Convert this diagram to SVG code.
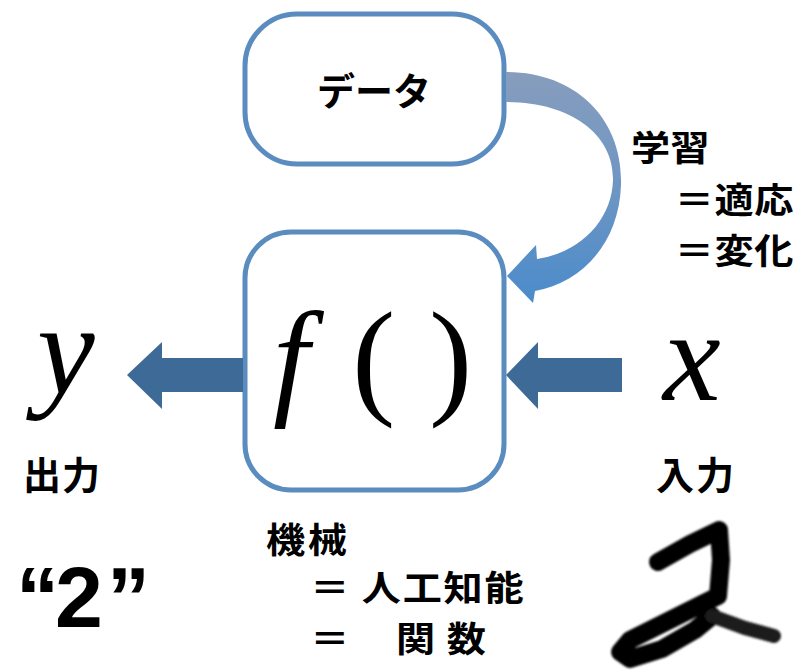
<svg xmlns="http://www.w3.org/2000/svg" width="797" height="671" viewBox="0 0 797 671">
  <style>
    .box { fill: #ffffff; stroke: #5b8cc0; stroke-width: 5; }
    .arrow { fill: #3e6a98; }
    .math { font-family: "Liberation Serif", "Times New Roman", serif; font-size: 130px; fill: #000; }
    .it { font-style: italic; }
    .jp { font-family: "Noto Sans CJK JP", "Noto Sans", sans-serif; font-weight: bold; font-size: 38px; fill: #000; }
    .stack { font-size: 35px; }
    .big { font-family: "Liberation Sans", Arial, sans-serif; font-weight: bold; font-size: 86px; fill: #000; }
  </style>
  <defs>
    <linearGradient id="curveGrad" x1="0" y1="0" x2="0" y2="1">
      <stop offset="0" stop-color="#879dbd"/>
      <stop offset="0.5" stop-color="#6e96c3"/>
      <stop offset="1" stop-color="#4a8bcb"/>
    </linearGradient>
    <filter id="soft" x="-10%" y="-10%" width="120%" height="120%">
      <feGaussianBlur stdDeviation="1.3"/>
    </filter>
  </defs>

  <g id="node-data">
    <rect class="box" x="245" y="14" width="259" height="150" rx="52" ry="52"/>
    <text class="jp" x="374" y="105" text-anchor="middle" font-size="44">データ</text>
  </g>

  <g id="node-machine">
    <rect class="box" x="245" y="232" width="259" height="258" rx="46" ry="46"/>
    <text class="math it" x="273" y="401">f</text>
    <text class="math" x="352" y="401">(</text>
    <text class="math" x="429" y="401">)</text>
  </g>

  <g id="connectors">
    <path id="learn-arrow" fill="url(#curveGrad)" d="M506,72 C575,72 623,118 621,185 C619,245 580,283 535,291 L533,303 L507,276 L536,245 L537,259 C583,252 612,218 613,180 C614,134 570,102 506,102 Z"/>
    <polygon class="arrow" points="243,358 162,358 162,342 127,375 162,409 162,392 243,392"/>
    <polygon class="arrow" points="622,358 538,358 538,342 506,375 538,409 538,392 622,392"/>
  </g>

  <g id="label-learning" transform="scale(1.12,1)">
    <text class="jp stack"><tspan x="563.5 598.5" y="161">学習</tspan><tspan x="602.5 638 673.5" y="213">＝適応</tspan><tspan x="602.5 638 673.5" y="264">＝変化</tspan></text>
  </g>

  <g id="node-output">
    <text class="math it" x="37" y="393">y</text>
    <text class="jp" x="23 62" y="489">出力</text>
  </g>

  <g id="node-input">
    <text class="math it" x="663" y="400">x</text>
    <text class="jp" x="656 696" y="489">入力</text>
  </g>

  <g id="label-machine" transform="scale(1.12,1)">
    <text class="jp stack"><tspan x="237.5 275" y="553">機械</tspan><tspan x="277 323 359.5 396 432.5" y="601">＝人工知能</tspan><tspan x="277 353.5 399" y="652">＝関数</tspan></text>
  </g>

  <g id="label-two">
    <text class="big" x="16 55 107" y="627">“2”</text>
  </g>

  <g id="handwritten-two" filter="url(#soft)">
    <path fill="none" stroke="#000" stroke-width="18" stroke-linejoin="round" stroke-linecap="round" d="M658,562 L690,544 L719,530 L721,560 L718,596 L670,620 L630,640 L620,652 L630,659 L662,649 L695,630 L712,616"/>
    <path fill="none" stroke="#1a1a1a" stroke-width="14" stroke-linecap="round" d="M712,616 L745,628 L774,636"/>
  </g>
</svg>
